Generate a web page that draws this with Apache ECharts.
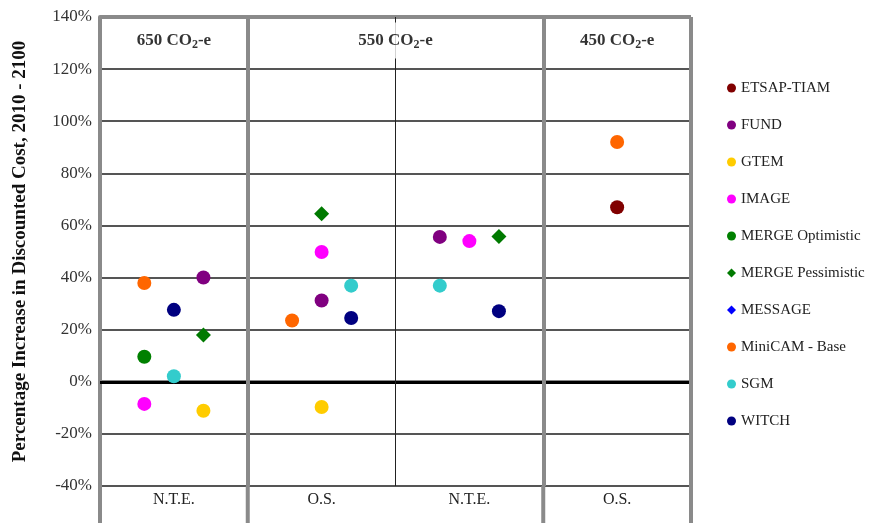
<!DOCTYPE html>
<html><head><meta charset="utf-8">
<script src="https://cdn.jsdelivr.net/npm/echarts@6/dist/echarts.min.js"></script>
<style>html,body{margin:0;padding:0;background:#fff}#c{width:873px;height:523px}</style>
</head><body><div id="c"></div>
<script>
// ---- data ----
const categories = ['N.T.E.', 'O.S.', 'N.T.E.', 'O.S.'];
const groupLabels = ['650', '550', '450'];
const groupSpans = [[0, 1], [1, 3], [3, 4]];
const yTicks = [-40, -20, 0, 20, 40, 60, 80, 100, 120, 140];

const modelNames = ['ETSAP-TIAM', 'FUND', 'GTEM', 'IMAGE', 'MERGE Optimistic',
  'MERGE Pessimistic', 'MESSAGE', 'MiniCAM - Base', 'SGM', 'WITCH'];
// % increase per category (null = no result)
const etsapTiam        = [null, null, null, 67.0];
const fund             = [40.0, 31.2, 55.6, null];
const gtem             = [-11.1, -9.7, null, null];
const image            = [-8.5, 49.8, 54.0, null];
const mergeOptimistic  = [9.6, null, null, null];
const mergePessimistic = [18.0, 64.5, 55.8, null];
const message          = [null, null, null, null];
const miniCam          = [37.9, 23.5, null, 92.0];
const sgm              = [2.1, 36.9, 36.9, null];
const witch            = [27.6, 24.5, 27.1, null];
// column slot inside each category (-1 left, 0 middle, 1 right)
const etsapSlot   = [0, 0, 0, 0];
const fundSlot    = [1, 0, -1, 0];
const gtemSlot    = [1, 0, 0, 0];
const imageSlot   = [-1, 0, 0, 0];
const mOptSlot    = [-1, 0, 0, 0];
const mPessSlot   = [1, 0, 1, 0];
const messageSlot = [0, 0, 0, 0];
const miniCamSlot = [-1, -1, 0, 0];
const sgmSlot     = [0, 1, -1, 0];
const witchSlot   = [0, 1, 1, 0];
// category borders that run down through the label row
const labelRowBorders = [0, 1, 3, 4];

// ---- build ----
const values = [etsapTiam, fund, gtem, image, mergeOptimistic, mergePessimistic, message, miniCam, sgm, witch];
const slots = [etsapSlot, fundSlot, gtemSlot, imageSlot, mOptSlot, mPessSlot, messageSlot, miniCamSlot, sgmSlot, witchSlot];
const colors = ['#800000', '#800080', '#ffcc00', '#ff00ff', '#008000', '#007a00', '#0000ff', '#ff6600', '#33cccc', '#000080'];
const symbols = ['circle', 'circle', 'circle', 'circle', 'circle', 'diamond', 'diamond', 'circle', 'circle', 'circle'];
const SLOT_STEP = 0.2;
const serif = 'Liberation Serif';
const GRAY = '#8a8a8a';

const modelSeries = modelNames.map((name, k) => ({
  name,
  type: 'scatter',
  z: 2,
  symbol: symbols[k],
  symbolSize: symbols[k] === 'diamond' ? 15 : 14,
  itemStyle: { color: colors[k], opacity: 1 },
  data: values[k].map((v, i) => v == null ? null : [i + 0.5 + slots[k][i] * SLOT_STEP, v]).filter(d => d)
}));

const gridLine = (c, w) => ({ color: c, width: w, type: 'solid' });

const headerSeries = {
  name: 'header',
  type: 'scatter',
  z: 3,
  silent: true,
  symbolSize: 1,
  itemStyle: { color: 'rgba(0,0,0,0)' },
  label: {
    show: true,
    position: 'inside',
    backgroundColor: '#fff',
    padding: [8, 5],
    formatter: p => `{m|${p.data[2]} CO}{s|2}{m|-e}`,
    rich: {
      m: { fontFamily: serif, fontWeight: 'bold', fontSize: 17, lineHeight: 20, color: '#000' },
      s: { fontFamily: serif, fontWeight: 'bold', fontSize: 12, lineHeight: 11, verticalAlign: 'bottom', color: '#000' }
    }
  },
  data: groupLabels.map((g, i) => [(groupSpans[i][0] + groupSpans[i][1]) / 2, 131, g]),
  markLine: {
    silent: true,
    z: 1,
    symbol: 'none',
    animation: false,
    label: { show: false },
    emphasis: { disabled: true },
    data: [
      { yAxis: yTicks[yTicks.length - 1], lineStyle: gridLine(GRAY, 4) },
      { yAxis: 0, lineStyle: gridLine('#000', 3) },
      { xAxis: 2, lineStyle: gridLine('#222', 1) },
      { xAxis: 1, lineStyle: gridLine(GRAY, 4) },
      { xAxis: 3, lineStyle: gridLine(GRAY, 4) },
      { xAxis: 4, lineStyle: gridLine(GRAY, 4) }
    ]
  }
};

const chart = echarts.init(document.getElementById('c'));
chart.setOption({
  backgroundColor: '#fff',
  animation: false,
  grid: { left: 100, right: 182, top: 17, bottom: 37, containLabel: false },
  legend: {
    data: modelNames,
    orient: 'vertical',
    left: 722,
    top: 75,
    itemWidth: 9,
    itemHeight: 9,
    itemGap: 21,
    selectedMode: false,
    textStyle: { fontFamily: serif, fontSize: 15, lineHeight: 16, color: '#222' }
  },
  xAxis: {
    type: 'value',
    min: 0,
    max: categories.length,
    interval: 1,
    axisLine: { show: true, lineStyle: { color: GRAY, width: 4 } },
    axisTick: { show: false },
    splitLine: { show: false },
    axisLabel: {
      customValues: categories.map((c, i) => i + 0.5),
      formatter: v => categories[Math.floor(v)],
      margin: 6,
      fontFamily: serif, fontSize: 16, color: '#222'
    }
  },
  yAxis: {
    type: 'value',
    min: yTicks[0],
    max: yTicks[yTicks.length - 1],
    interval: yTicks[1] - yTicks[0],
    name: 'Percentage Increase in Discounted Cost, 2010 - 2100',
    nameLocation: 'middle',
    nameGap: 70,
    nameRotate: 90,
    nameTextStyle: { fontFamily: serif, fontWeight: 'bold', fontSize: 19, color: '#111' },
    axisLine: { show: true, lineStyle: { color: GRAY, width: 4 } },
    axisTick: { show: false },
    splitLine: { show: true, lineStyle: { color: '#555', width: 1.8 } },
    axisLabel: { formatter: v => v + '%', margin: 8, fontFamily: serif, fontSize: 17, color: '#333' }
  },
  series: [headerSeries, ...modelSeries]
});

// extend the category borders down through the label row
const yBottom = chart.convertToPixel({ yAxisIndex: 0 }, yTicks[0]);
const H = chart.getHeight();
chart.setOption({
  graphic: labelRowBorders.map(x => {
    const px = chart.convertToPixel({ xAxisIndex: 0 }, x);
    return {
      type: 'line', silent: true, z: 5,
      shape: { x1: px, y1: yBottom, x2: px, y2: H },
      style: { stroke: GRAY, lineWidth: 4 }
    };
  })
});
</script>
</body></html>
